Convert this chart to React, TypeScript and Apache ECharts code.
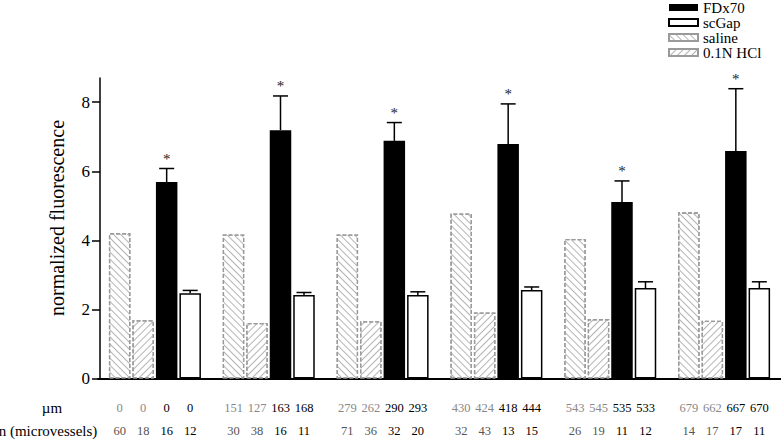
import React, { useEffect, useRef } from "react";
import * as echarts from "echarts";

const groups = ["g1", "g2", "g3", "g4", "g5", "g6"];
const salineValues = [4.21, 4.17, 4.17, 4.78, 4.04, 4.81];
const hclValues = [1.69, 1.61, 1.66, 1.91, 1.72, 1.67];
const fdxValues = [5.69, 7.19, 6.88, 6.79, 5.11, 6.59];
const fdxErrors = [0.39, 0.99, 0.53, 1.16, 0.61, 1.8];
const scGapValues = [2.47, 2.42, 2.42, 2.56, 2.62, 2.62];
const scGapErrors = [0.08, 0.07, 0.09, 0.09, 0.18, 0.18];
const umLabels = [
  ["0", "0", "0", "0"],
  ["151", "127", "163", "168"],
  ["279", "262", "290", "293"],
  ["430", "424", "418", "444"],
  ["543", "545", "535", "533"],
  ["679", "662", "667", "670"],
];
const nLabels = [
  ["60", "18", "16", "12"],
  ["30", "38", "16", "11"],
  ["71", "36", "32", "20"],
  ["32", "43", "13", "15"],
  ["26", "19", "11", "12"],
  ["14", "17", "17", "11"],
];
const yTicks = [0, 2, 4, 6, 8];
const legendNames = ["FDx70", "scGap", "saline", "0.1N HCl"];

const FONT = "Liberation Serif";
const BAR_W = 21.5;
const BAR_STEP = 23.5;
const barOffset = (i: number) => -46 + i * BAR_STEP + BAR_W / 2;

export default function App() {
  const ref = useRef<HTMLDivElement>(null);
  useEffect(() => {
    if (!ref.current) return;
    const chart = echarts.init(ref.current, null, { renderer: "svg" });

    const hatch = (rot: number) => ({
      color: "#fff",
      borderColor: "#9a9a9a",
      borderWidth: 1.3,
      borderType: [4, 2] as any,
      decal: {
        symbol: "rect",
        symbolSize: 1,
        color: "#b4b4b4",
        dashArrayX: [1, 0],
        dashArrayY: [1, 3.8],
        rotation: rot,
      },
    });

    const errData: any[] = [];
    groups.forEach((_, g) => {
      errData.push([g, fdxValues[g], fdxErrors[g], 2]);
      errData.push([g, scGapValues[g], scGapErrors[g], 3]);
    });
    const labelData: any[] = [];
    groups.forEach((_, g) => {
      for (let b = 0; b < 4; b++) labelData.push([g, 0]);
    });

    const barBase = {
      type: "bar",
      barWidth: BAR_W,
      barGap: "9.3%",
      z: 2,
    };

    const txt = (size: number, fill: string) => ({ fontFamily: FONT, fontSize: size, fill });

    chart.setOption({
      animation: false,
      backgroundColor: "#fff",
      grid: { left: 98, width: 684, top: 78, bottom: 60.5, containLabel: false },
      legend: {
        data: legendNames,
        orient: "vertical",
        left: 663,
        top: -5,
        itemWidth: 29,
        itemHeight: 7,
        itemGap: 0,
        icon: "rect",
        textStyle: { fontFamily: FONT, fontSize: 15, lineHeight: 14.5, color: "#000" },
        selectedMode: false,
      },
      xAxis: {
        type: "category",
        data: groups,
        axisLine: { lineStyle: { color: "#000", width: 2 } },
        axisTick: { show: false },
        axisLabel: { show: false },
      },
      yAxis: {
        type: "value",
        min: 0,
        max: 8.7,
        interval: 2,
        offset: -2,
        axisLine: { show: true, lineStyle: { color: "#000", width: 1.5 } },
        axisTick: { show: true, length: 8, lineStyle: { color: "#000", width: 1.5 }, customValues: yTicks },
        axisLabel: { margin: 10, fontFamily: FONT, fontSize: 17, color: "#000", customValues: yTicks },
        splitLine: { show: false },
      },
      graphic: [
        {
          type: "text",
          x: 57,
          y: 218,
          rotation: Math.PI / 2,
          style: { text: "normalized fluorescence", ...txt(20, "#000"), align: "center", verticalAlign: "middle" },
        },
        {
          type: "text",
          x: 52,
          y: 408,
          style: { text: "µm", ...txt(15, "#000"), align: "center", verticalAlign: "middle" },
        },
        {
          type: "text",
          x: 48,
          y: 431,
          style: { text: "n (microvessels)", ...txt(15, "#000"), align: "center", verticalAlign: "middle" },
        },
      ],
      series: [
        { ...barBase, name: "saline", data: salineValues, itemStyle: hatch(Math.PI / 4) },
        { ...barBase, name: "0.1N HCl", data: hclValues, itemStyle: hatch(-Math.PI / 4) },
        { ...barBase, name: "FDx70", data: fdxValues, itemStyle: { color: "#000" } },
        {
          ...barBase,
          name: "scGap",
          data: scGapValues,
          itemStyle: { color: "#fff", borderColor: "#000", borderWidth: 1.5 },
        },
        {
          type: "custom",
          name: "errors",
          data: errData,
          z: 3,
          silent: true,
          clip: false,
          encode: { x: 0, y: 1 },
          renderItem: (params: any, api: any) => {
            const g = api.value(0);
            const v = api.value(1);
            const e = api.value(2);
            const b = api.value(3);
            const p0 = api.coord([g, v]);
            const p1 = api.coord([g, v + e]);
            const x = p0[0] + barOffset(b);
            const children: any[] = [
              { type: "line", shape: { x1: x, y1: p0[1], x2: x, y2: p1[1] }, style: { stroke: "#000", lineWidth: 1.5 } },
              { type: "line", shape: { x1: x - 7.5, y1: p1[1], x2: x + 7.5, y2: p1[1] }, style: { stroke: "#000", lineWidth: 1.5 } },
            ];
            if (b === 2) {
              children.push({
                type: "text",
                x: x,
                y: p1[1] - 2,
                style: { text: "*", ...txt(15, "#222"), align: "center", verticalAlign: "bottom" },
              });
            }
            return { type: "group", children };
          },
        },
        {
          type: "custom",
          name: "labels",
          data: labelData,
          silent: true,
          clip: false,
          encode: { x: 0, y: 1 },
          renderItem: (params: any, api: any) => {
            const idx = params.dataIndex;
            const g = Math.floor(idx / 4);
            const b = idx % 4;
            const p = api.coord([g, 0]);
            const x = p[0] + barOffset(b);
            const gray = b < 2;
            return {
              type: "group",
              children: [
                {
                  type: "text",
                  x,
                  y: p[1] + 29.5,
                  style: { text: umLabels[g][b], ...txt(12.5, gray ? "#888" : "#000"), align: "center", verticalAlign: "middle" },
                },
                {
                  type: "text",
                  x,
                  y: p[1] + 52.5,
                  style: { text: nLabels[g][b], ...txt(12.5, gray ? "#555" : "#000"), align: "center", verticalAlign: "middle" },
                },
              ],
            };
          },
        },
      ],
    });
    return () => chart.dispose();
  }, []);
  return <div ref={ref} style={{ position: "absolute", left: 0, top: 0, width: 781, height: 439 }} />;
}
